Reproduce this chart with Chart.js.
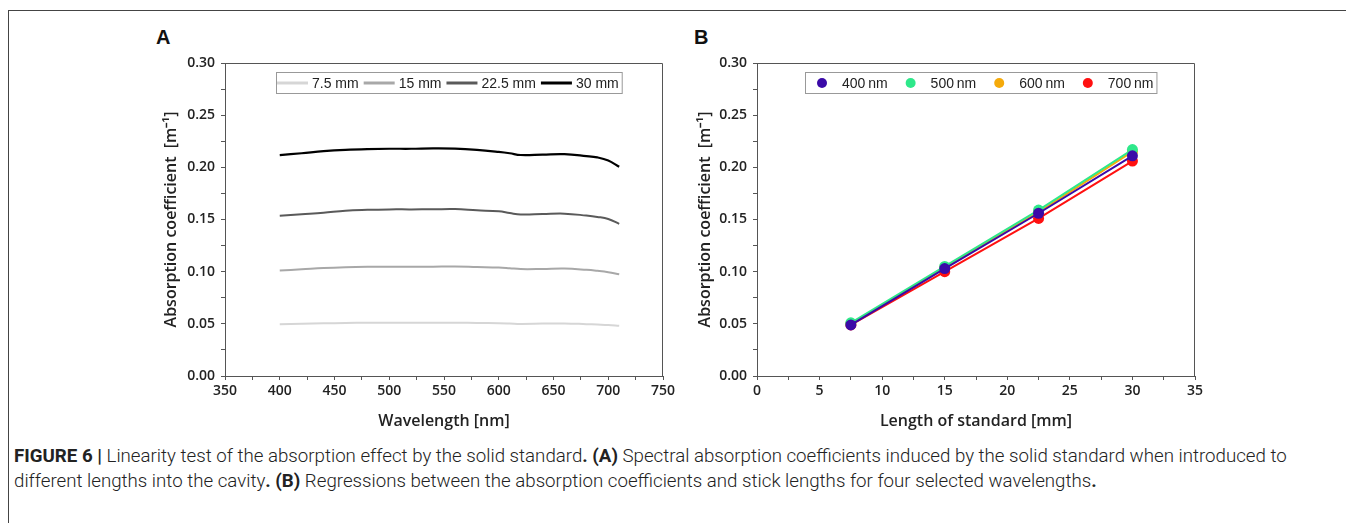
<!DOCTYPE html>
<html>
<head>
<meta charset="utf-8">
<script src="https://cdn.jsdelivr.net/npm/chart.js@4.4.0/dist/chart.umd.min.js"></script>
<style>
  body { margin: 0; background: #fff; width: 1346px; height: 523px; overflow: hidden; position: relative; }
  .frame { position: absolute; left: 8px; top: 10px; width: 1400px; height: 600px; border: 1px solid #444; }
  .panel { position: absolute; font: bold 20px "Liberation Sans", Arial, sans-serif; color: #111; }
  canvas { position: absolute; }
  .caption { position: absolute; left: 14px; top: 444px; font: 300 18.7px Roboto, "Liberation Sans", sans-serif; color: #222; line-height: 25px; white-space: nowrap; }
  .caption b { font-weight: 700; }
</style>
</head>
<body>
<div class="frame"></div>
<div class="panel" style="left:156px;top:26px">A</div>
<div class="panel" style="left:694px;top:26px">B</div>
<canvas id="chartA" width="540" height="420" style="left:140px;top:20px"></canvas>
<canvas id="chartB" width="540" height="420" style="left:680px;top:20px"></canvas>
<div class="caption"><b>FIGURE 6 |</b> Linearity test of the absorption effect by the solid standard<b>.</b> <b>(A)</b> Spectral absorption coefficients induced by the solid standard when introduced to<br>different lengths into the cavity<b>.</b> <b>(B)</b> Regressions between the absorption coefficients and stick lengths for four selected wavelengths<b>.</b></div>
<script>
// panel A: spectra
const wavelengths = [400, 420, 440, 460, 480, 500, 520, 540, 560, 580, 600, 610, 620, 640, 660, 680, 690, 700, 710];
const mm7_5 = [0.0495, 0.0500, 0.0505, 0.0508, 0.0510, 0.0510, 0.0510, 0.0510, 0.0511, 0.0508, 0.0506, 0.0503, 0.0499, 0.0502, 0.0504, 0.0497, 0.0493, 0.0489, 0.0482];
const mm15 = [0.1010, 0.1022, 0.1035, 0.1043, 0.1047, 0.1048, 0.1047, 0.1048, 0.1050, 0.1045, 0.1040, 0.1033, 0.1025, 0.1026, 0.1030, 0.1018, 0.1008, 0.0995, 0.0975];
const mm22_5 = [0.1535, 0.1550, 0.1565, 0.1585, 0.1593, 0.1597, 0.1597, 0.1598, 0.1600, 0.1588, 0.1578, 0.1562, 0.1548, 0.1552, 0.1556, 0.1538, 0.1525, 0.1505, 0.1458];
const mm30 = [0.2117, 0.2135, 0.2155, 0.2168, 0.2175, 0.2178, 0.2178, 0.2182, 0.2180, 0.2168, 0.2148, 0.2135, 0.2118, 0.2122, 0.2126, 0.2108, 0.2095, 0.2065, 0.2005];

// panel B: regressions
const lengths = [7.5, 15, 22.5, 30];
const nm400 = [0.049, 0.103, 0.156, 0.211];
const nm500 = [0.051, 0.105, 0.159, 0.217];
const nm600 = [0.050, 0.104, 0.157, 0.215];
const nm700 = [0.049, 0.100, 0.151, 0.206];

const pts = (xs, ys) => xs.map((x, i) => ({x: x, y: ys[i]}));

const AXIS = '#555';
const tickFont = {family: '"Open Sans", sans-serif', size: 14, weight: '600'};
const titleFont = {family: '"Open Sans", sans-serif', size: 16, weight: '600'};

// frame around the plot area + legend box inside it
const boxLegend = {
  id: 'boxLegend',
  afterDraw(chart, args, o) {
    const {ctx, chartArea: a} = chart;
    ctx.save();
    ctx.strokeStyle = AXIS;
    ctx.lineWidth = 1;
    ctx.beginPath();
    ctx.moveTo(a.left, a.top + 0.5);
    ctx.lineTo(a.right - 0.5, a.top + 0.5);
    ctx.lineTo(a.right - 0.5, a.bottom);
    ctx.stroke();

    ctx.font = '14px "Liberation Sans", Arial, sans-serif';
    const items = chart.data.datasets.map(ds => ({label: ds.label, color: ds.borderColor, w: ctx.measureText(ds.label).width}));
    let w = o.padL + o.padR;
    items.forEach((it, i) => { w += o.symW + o.gapT + it.w + (i ? o.gapI : 0); });
    const x0 = a.left + o.dx, y0 = a.top + o.dy;
    ctx.fillStyle = '#fff';
    ctx.fillRect(x0, y0, w, o.h);
    ctx.strokeStyle = '#999';
    ctx.strokeRect(x0 + 0.5, y0 + 0.5, w, o.h);
    let x = x0 + o.padL;
    const cy = y0 + o.h / 2 + 0.5;
    ctx.textBaseline = 'middle';
    items.forEach((it, i) => {
      if (i) x += o.gapI;
      if (o.sym === 'line') {
        ctx.strokeStyle = it.color;
        ctx.lineWidth = 3;
        ctx.beginPath();
        ctx.moveTo(x, cy);
        ctx.lineTo(x + o.symW, cy);
        ctx.stroke();
      } else {
        ctx.fillStyle = it.color;
        ctx.beginPath();
        ctx.arc(x + o.symW / 2, cy, o.symW / 2, 0, Math.PI * 2);
        ctx.fill();
      }
      x += o.symW + o.gapT;
      ctx.fillStyle = '#222';
      ctx.fillText(it.label, x, cy + 1);
      x += it.w;
    });
    ctx.restore();
  }
};

function axisY(width, titlePad) {
  return {
    type: 'linear', min: 0, max: 0.3,
    afterFit: s => { s.width = width; },
    border: {display: true, color: AXIS, width: 1},
    grid: {drawOnChartArea: false, drawTicks: true, tickLength: 4, tickColor: AXIS},
    ticks: {
      stepSize: 0.025, autoSkip: false, padding: 6, color: '#222', font: tickFont,
      callback: v => (Math.round(v * 1000) % 50 === 0 ? v.toFixed(2) : '')
    },
    title: {display: true, text: 'Absorption coefficient  [m⁻¹]', color: '#222', font: titleFont, padding: {top: titlePad, bottom: 0}}
  };
}

function axisX(min, max, step, labelEvery, text) {
  return {
    type: 'linear', min: min, max: max,
    afterFit: s => { s.height = 64; },
    border: {display: true, color: AXIS, width: 1},
    grid: {drawOnChartArea: false, drawTicks: true, tickLength: 4, tickColor: AXIS},
    ticks: {
      stepSize: step, autoSkip: false, maxRotation: 0, padding: 3, color: '#222', font: tickFont,
      callback: v => (Math.abs(v / labelEvery - Math.round(v / labelEvery)) < 1e-6 ? String(v) : '')
    },
    title: {display: true, text: text, color: '#222', font: titleFont, padding: {top: 0, bottom: 9}}
  };
}

new Chart(document.getElementById('chartA'), {
  type: 'line',
  data: {
    datasets: [
      {label: '7.5 mm', data: pts(wavelengths, mm7_5), borderColor: '#d6d6d6', borderWidth: 2},
      {label: '15 mm', data: pts(wavelengths, mm15), borderColor: '#a8a8a8', borderWidth: 2},
      {label: '22.5 mm', data: pts(wavelengths, mm22_5), borderColor: '#5a5a5a', borderWidth: 2},
      {label: '30 mm', data: pts(wavelengths, mm30), borderColor: '#000', borderWidth: 2.2}
    ]
  },
  options: {
    responsive: false, animation: false,
    layout: {padding: {top: 43, right: 17, bottom: 0, left: 0}},
    elements: {point: {radius: 0}, line: {tension: 0.4, fill: false}},
    plugins: {
      legend: {display: false}, tooltip: {enabled: false},
      boxLegend: {dx: 51, dy: 9, h: 21, padL: 1, padR: 3, sym: 'line', symW: 31, gapT: 4, gapI: 5}
    },
    scales: {
      x: axisX(350, 750, 25, 50, 'Wavelength [nm]'),
      y: axisY(85, 22)
    }
  },
  plugins: [boxLegend]
});

new Chart(document.getElementById('chartB'), {
  type: 'line',
  data: {
    datasets: [
      {label: '400\u2009nm', data: pts(lengths, nm400), borderColor: '#3a0aa8', backgroundColor: '#3a0aa8'},
      {label: '500\u2009nm', data: pts(lengths, nm500), borderColor: '#2ee88a', backgroundColor: '#2ee88a'},
      {label: '600\u2009nm', data: pts(lengths, nm600), borderColor: '#f5aa0a', backgroundColor: '#f5aa0a'},
      {label: '700\u2009nm', data: pts(lengths, nm700), borderColor: '#ff1010', backgroundColor: '#ff1010'}
    ]
  },
  options: {
    responsive: false, animation: false,
    layout: {padding: {top: 43, right: 25, bottom: 0, left: 0}},
    elements: {point: {radius: 5.5, borderWidth: 0}, line: {tension: 0, borderWidth: 2, fill: false}},
    plugins: {
      legend: {display: false}, tooltip: {enabled: false},
      boxLegend: {dx: 48, dy: 9, h: 21, padL: 12, padR: 3, sym: 'dot', symW: 10, gapT: 15, gapI: 18}
    },
    scales: {
      x: axisX(0, 35, 2.5, 5, 'Length of standard [mm]'),
      y: axisY(77, 16)
    }
  },
  plugins: [boxLegend]
});
</script>
</body>
</html>
